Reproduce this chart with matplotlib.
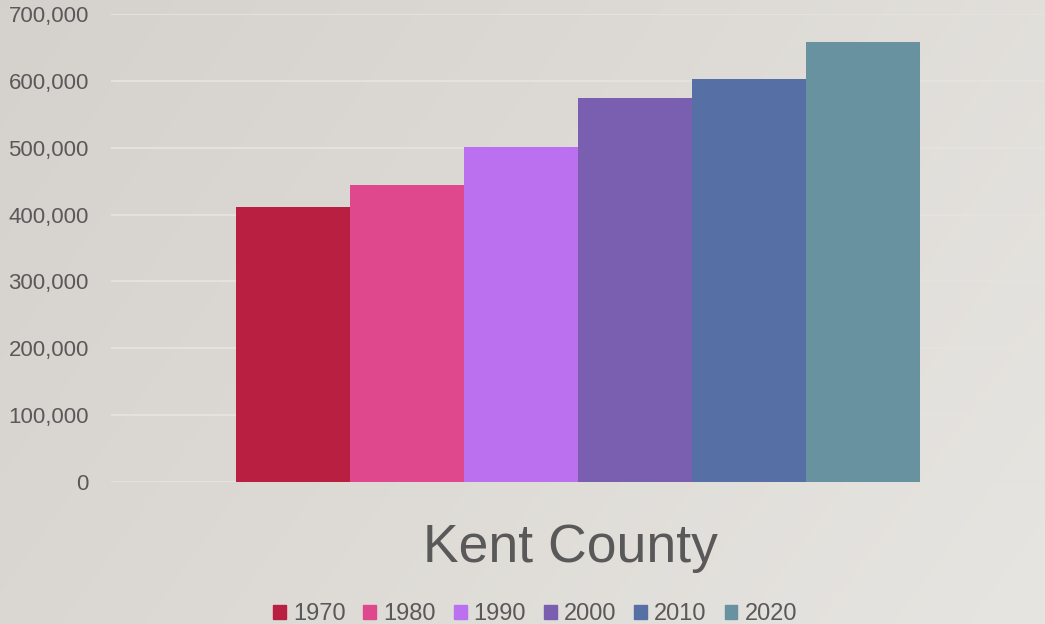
import matplotlib.pyplot as plt
import numpy as np
from matplotlib.ticker import FuncFormatter
from matplotlib.patches import Patch

years = ["1970", "1980", "1990", "2000", "2010", "2020"]
population = [411044, 444506, 500631, 574335, 602622, 657974]
colors = ["#b81f40", "#e0488e", "#bb71ef", "#7a5fb1", "#5670a6", "#68929f"]
yticks = [0, 100000, 200000, 300000, 400000, 500000, 600000, 700000]

plt.rcParams["font.family"] = ["Liberation Sans", "DejaVu Sans"]

fig = plt.figure(figsize=(10.45, 6.24), dpi=100)

# soft gradient background
bg = fig.add_axes([0, 0, 1, 1], zorder=-10)
grad = np.linspace(0, 1, 256)
gx, gy = np.meshgrid(grad, grad)
t = 0.7 * gx + 0.3 * (1 - gy)
c0 = np.array([0.835, 0.820, 0.800])
c1 = np.array([0.905, 0.898, 0.882])
img = c0 + (c1 - c0) * t[..., None]
bg.imshow(img, aspect="auto", extent=[0, 1, 0, 1], origin="lower")
bg.axis("off")

ax = fig.add_axes([0.1062, 0.2276, 0.8938, 0.75])
ax.patch.set_alpha(0)

xs = np.arange(len(years)) - (len(years) - 1) / 2
ax.bar(xs, population, width=1.0, color=colors, zorder=3)

ax.set_xlim(-4.096, 4.096)
ax.set_ylim(0, 700000)
ax.set_yticks(yticks)
ax.yaxis.set_major_formatter(FuncFormatter(lambda v, p: f"{int(v):,}"))
ax.tick_params(axis="y", length=0, pad=16, labelsize=16, labelcolor="#595959")
ax.set_xticks([])
ax.grid(axis="y", color="#e4e2de", linewidth=1.5, zorder=0)
for s in ax.spines.values():
    s.set_visible(False)

fig.text(0.546, 0.122, "Kent County", fontsize=38.5, color="#595959",
         ha="center", va="center")

handles = [Patch(color=c, label=y) for c, y in zip(colors, years)]
fig.legend(handles=handles, loc="center", bbox_to_anchor=(0.512, 0.016),
           ncol=6, frameon=False, fontsize=17, labelcolor="#595959",
           handlelength=0.55, handleheight=0.55, handletextpad=0.3,
           columnspacing=0.75)

fig.savefig("out.png", dpi=100)
